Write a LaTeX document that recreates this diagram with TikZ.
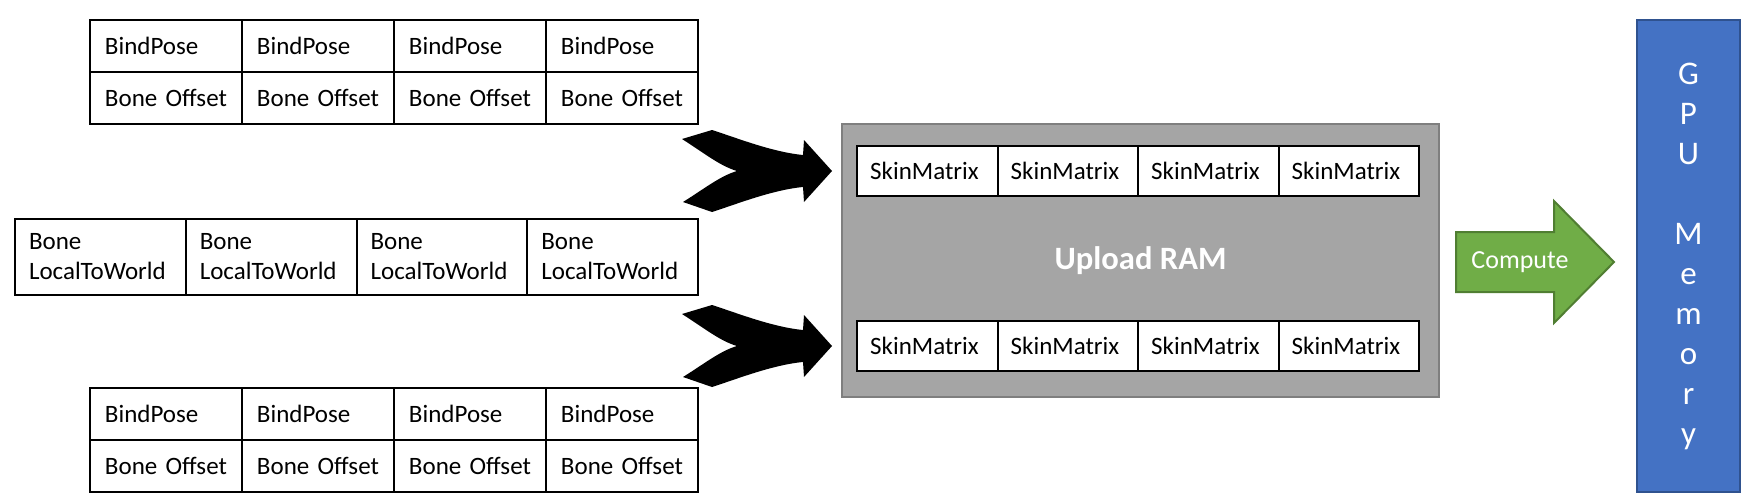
\documentclass[tikz,border=0pt]{standalone}
\usepackage{fontspec}
\setmainfont{Carlito}
\usetikzlibrary{matrix,positioning}

\definecolor{ramgray}{HTML}{A5A5A5}
\definecolor{ramedge}{HTML}{7F7F7F}
\definecolor{gpublue}{HTML}{4472C4}
\definecolor{gpuedge}{HTML}{2F528F}
\definecolor{computegreen}{HTML}{70AD47}
\definecolor{computeedge}{HTML}{507E32}

\tikzset{
  celltable/.style = {matrix of nodes, inner sep=0pt, outer sep=0pt,
    column sep=-1pt, row sep=-1pt},
  cellbase/.style = {draw, line width=1pt, outer sep=0pt, inner ysep=0pt,
    anchor=center, font=\fontsize{12.5pt}{15pt}\selectfont},
  bonecell/.style = {cellbase, minimum width=76pt, minimum height=26pt,
    text width=61pt, inner xsep=7.5pt, align=left},
  ltwcell/.style = {cellbase, minimum width=85.4pt, minimum height=38pt,
    text width=71.4pt, inner xsep=7pt, align=left,
    execute at begin node={\hyphenpenalty=10000\exhyphenpenalty=10000}},
  skincell/.style = {cellbase, fill=white, minimum width=70.25pt,
    minimum height=25pt, inner xsep=0pt, align=center},
  rambox/.style = {draw=ramedge, fill=ramgray, line width=1pt, outer sep=0pt,
    minimum width=298.5pt, minimum height=136.5pt, text=white,
    font=\bfseries\fontsize{16.3pt}{19pt}\selectfont},
  gpubox/.style = {draw=gpuedge, fill=gpublue, line width=1pt, outer sep=0pt,
    minimum width=51.5pt, minimum height=236pt, text=white, align=center,
    font=\fontsize{16.5pt}{20pt}\selectfont},
  computearrow/.style = {draw=computeedge, fill=computegreen, line width=1pt},
  computetext/.style = {text=white, font=\fontsize{13pt}{15pt}\selectfont},
  mergearrow/.pic = {
    \fill (-150,-32) -- (-120,-41) .. controls (-95,-33) and (-60,-19) .. (-29,-16)
      -- (-28,-31) -- (0,0) -- (-28,31) -- (-29,16)
      .. controls (-60,19) and (-95,33) .. (-120,41) -- (-149,31)
      .. controls (-128,18) and (-112,5) .. (-95,0)
      .. controls (-112,-5) and (-128,-18) .. cycle;
  }
}

\begin{document}
\begin{tikzpicture}[x=0.5pt, y=-0.5pt]
  \useasboundingbox (0,0) rectangle (1753,503);

  % source buffers
  \matrix (toppose) [celltable, nodes={bonecell}, anchor=north west] at (89,19) {
    BindPose & BindPose & BindPose & BindPose \\
    Bone~Offset & Bone~Offset & Bone~Offset & Bone~Offset \\
  };
  \matrix (localtoworld) [celltable, nodes={ltwcell}, anchor=north west] at (14,218) {
    Bone LocalToWorld & Bone LocalToWorld & Bone LocalToWorld & Bone LocalToWorld \\
  };
  \matrix (bottompose) [celltable, nodes={bonecell}, anchor=north west] at (89,387) {
    BindPose & BindPose & BindPose & BindPose \\
    Bone~Offset & Bone~Offset & Bone~Offset & Bone~Offset \\
  };

  % upload buffer
  \node[rambox, anchor=north west] (ram) at (842,124) {Upload RAM};
  \matrix (topskin) [celltable, nodes={skincell},
    below right=10.5pt and 7pt of ram.north west] {
    SkinMatrix & SkinMatrix & SkinMatrix & SkinMatrix \\
  };
  \matrix (bottomskin) [celltable, nodes={skincell},
    above right=12.5pt and 7pt of ram.south west] {
    SkinMatrix & SkinMatrix & SkinMatrix & SkinMatrix \\
  };

  \coordinate (toptip) at (ram.west |- topskin.west);
  \coordinate (bottomtip) at (ram.west |- bottomskin.west);
  \pic at ([xshift=-5pt]toptip) {mergearrow};
  \pic at ([xshift=-5pt]bottomtip) {mergearrow};

  % compute step
  \draw[computearrow] (1456,232) -- (1554,232) -- (1554,201) -- (1614,262)
    -- (1554,323) -- (1554,292) -- (1456,292) -- cycle;
  \node[computetext] (compute) at (1520,262) {Compute};

  \node[gpubox, anchor=north west] (gpu) at (1637,20)
    {G\\P\\U\\[20pt]M\\e\\m\\o\\r\\y};
\end{tikzpicture}
\end{document}
